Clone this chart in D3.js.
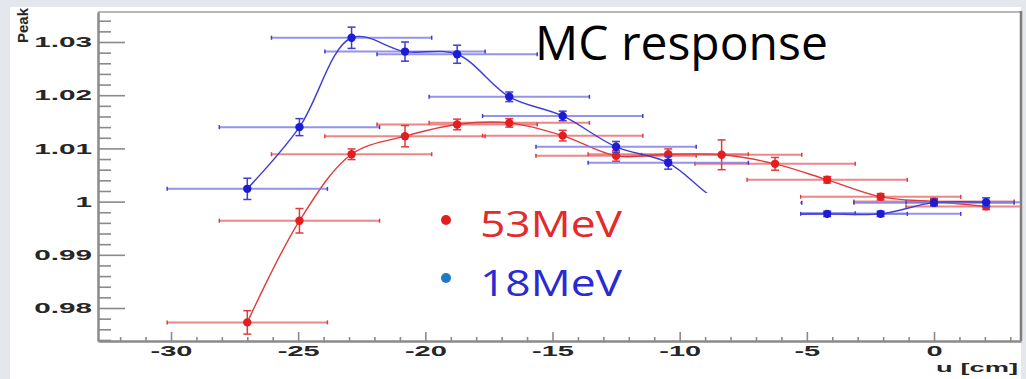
<!DOCTYPE html>
<html>
<head>
<meta charset="utf-8">
<script src="https://cdn.jsdelivr.net/npm/d3@7"></script>
<style>
  body { margin: 0; background: #e4e7eb; }
  svg { display: block; }
</style>
</head>
<body>
<div id="chart"></div>
<script>
// bin centres in u [cm], and the fitted peak per bin
var uBins = [-27.0, -24.95, -22.9, -20.8, -18.75, -16.7, -14.6, -12.5, -10.45, -8.35, -6.25, -4.2, -2.1, 0, 2.05];
var uHalfWidth = 3.15;

var peak53 = [0.9773, 0.9964, 1.0089, 1.0123, 1.0145, 1.0148, 1.0124, 1.0086, 1.0089, 1.0088, 1.0071, 1.0041, 1.0009, 1.0000, 0.9991];
var err53 = [0.0022, 0.0023, 0.0010, 0.0020, 0.0010, 0.0008, 0.0010, 0.0010, 0.0010, 0.0028, 0.0012, 0.0006, 0.0006, 0.0006, 0.0006];

var peak18 = [1.0024, 1.0140, 1.0308, 1.0282, 1.0277, 1.0197, 1.0161, 1.0103, 1.0073, 0.9998, 0.9978, 0.9977, 0.9977, 0.9998, 0.9999];
var err18 = [0.0020, 0.0016, 0.0020, 0.0018, 0.0017, 0.0009, 0.0009, 0.0010, 0.0012, 0.0010, 0.0010, 0.0005, 0.0005, 0.0006, 0.0008];

var xTicks = [-30, -25, -20, -15, -10, -5, 0];
var xTickLabels = ["-30", "-25", "-20", "-15", "-10", "-5", "0"];
var yTicks = [0.98, 0.99, 1, 1.01, 1.02, 1.03];
var yTickLabels = ["0.98", "0.99", "1", "1.01", "1.02", "1.03"];

var legendNames = ["53MeV", "18MeV"];

var width = 1026, height = 379;
var plotLeft = 98, plotRight = 1021, plotTop = 12, plotBottom = 341;

var svg = d3.select('#chart').append('svg')
    .attr('width', width)
    .attr('height', height);

// white slide panel
svg.append('rect')
    .attr('x', 10).attr('y', 7)
    .attr('width', plotRight - 10).attr('height', height - 7)
    .attr('fill', '#ffffff');

var x = d3.scaleLinear().domain([-32.87, 3.42]).range([plotLeft, plotRight]);
var y = d3.scaleLinear().domain([0.9738, 1.03564]).range([plotBottom, plotTop]);

svg.append('clipPath').attr('id', 'plotclip')
    .append('rect')
    .attr('x', plotLeft).attr('y', plotTop)
    .attr('width', plotRight - plotLeft).attr('height', plotBottom - plotTop);

// frame top and right
svg.append('line')
    .attr('x1', plotLeft).attr('x2', plotRight).attr('y1', plotTop).attr('y2', plotTop)
    .attr('stroke', '#a0a0a0').attr('stroke-width', 1.5);
svg.append('line')
    .attr('x1', plotRight).attr('x2', plotRight).attr('y1', plotTop - 1).attr('y2', plotBottom)
    .attr('stroke', '#7c7c7c').attr('stroke-width', 2.5);

// minor ticks
var xMinor = d3.range(-32, 4).filter(function (d) { return d % 5 !== 0; });
var yMinor = d3.range(487, 518).map(function (k) { return k * 0.002; })
    .filter(function (d) { return Math.abs(d * 100 - Math.round(d * 100)) > 1e-6; });

svg.append('g')
    .attr('transform', 'translate(0,' + plotBottom + ')')
    .call(d3.axisBottom(x).tickValues(xMinor).tickSize(-4).tickFormat(''))
    .call(function (g) { g.select('.domain').remove(); });

svg.append('g')
    .attr('transform', 'translate(' + plotLeft + ',0)')
    .call(d3.axisLeft(y).tickValues(yMinor).tickSize(-13).tickFormat(''))
    .call(function (g) { g.select('.domain').remove(); });

// major axes
var xAxis = svg.append('g')
    .attr('transform', 'translate(0,' + plotBottom + ')')
    .call(d3.axisBottom(x).tickValues(xTicks).tickSizeInner(-9).tickSizeOuter(0)
        .tickFormat(function (d, i) { return xTickLabels[i]; }));

var yAxis = svg.append('g')
    .attr('transform', 'translate(' + plotLeft + ',0)')
    .call(d3.axisLeft(y).tickValues(yTicks).tickSizeInner(-27).tickSizeOuter(0)
        .tickFormat(function (d, i) { return yTickLabels[i]; }));

svg.selectAll('.tick line').attr('stroke', '#8a8a8a').attr('stroke-width', 1.6);
xAxis.select('.domain').attr('stroke', '#8a8a8a').attr('stroke-width', 2.5);
yAxis.select('.domain').attr('stroke', '#8a8a8a').attr('stroke-width', 2.5);

xAxis.selectAll('text')
    .attr('y', 0).attr('dy', 0)
    .attr('transform', 'translate(0,15) scale(2.0,1)')
    .style('font-family', 'Liberation Sans, Arial, sans-serif')
    .style('font-weight', 'bold').style('font-size', '14.5px')
    .attr('fill', '#262626');

yAxis.selectAll('text')
    .attr('x', 0)
    .attr('transform', 'translate(-6,0) scale(2.05,1)')
    .style('font-family', 'Liberation Sans, Arial, sans-serif')
    .style('font-weight', 'bold').style('font-size', '14.5px')
    .attr('fill', '#262626');

// axis titles
svg.append('text')
    .attr('transform', 'translate(1018,372) scale(2.1,1)')
    .attr('text-anchor', 'end')
    .style('font-family', 'Liberation Sans, Arial, sans-serif')
    .style('font-weight', 'bold').style('font-size', '13px')
    .attr('fill', '#262626')
    .text('u [cm]');

svg.append('text')
    .attr('transform', 'translate(28,8) rotate(-90)')
    .attr('text-anchor', 'end')
    .style('font-family', 'Liberation Sans, Arial, sans-serif')
    .style('font-weight', 'bold').style('font-size', '15px')
    .attr('fill', '#262626')
    .text('Peak');

// data series
var series = [
    { peak: peak53, err: err53, bar: '#e86a6a', line: '#e23a3a', dot: '#e41e1e' },
    { peak: peak18, err: err18, bar: '#7a7ae6', line: '#3c3cd8', dot: '#1c1cd2' }
];

var plot = svg.append('g').attr('clip-path', 'url(#plotclip)');

var line = d3.line()
    .x(function (d) { return x(d.u); })
    .y(function (d) { return y(d.p); })
    .curve(d3.curveCatmullRom.alpha(0.5));

series.forEach(function (s) {
    var pts = uBins.map(function (u, i) { return { u: u, p: s.peak[i], e: s.err[i] }; });
    var g = plot.append('g');

    // horizontal bars
    g.selectAll('.hbar').data(pts).enter().append('line')
        .attr('x1', function (d) { return x(d.u - uHalfWidth); })
        .attr('x2', function (d) { return x(d.u + uHalfWidth); })
        .attr('y1', function (d) { return y(d.p); })
        .attr('y2', function (d) { return y(d.p); })
        .attr('stroke', s.bar).attr('stroke-width', 2).attr('opacity', 0.8);

    // bar end marks
    [-1, 1].forEach(function (k) {
        g.selectAll('.hend').data(pts).enter().append('line')
            .attr('x1', function (d) { return x(d.u + k * uHalfWidth); })
            .attr('x2', function (d) { return x(d.u + k * uHalfWidth); })
            .attr('y1', function (d) { return y(d.p) - 2; })
            .attr('y2', function (d) { return y(d.p) + 2; })
            .attr('stroke', s.line).attr('stroke-width', 1.5);
    });

    // vertical error bars with caps
    g.selectAll('.vbar').data(pts).enter().append('line')
        .attr('x1', function (d) { return x(d.u); })
        .attr('x2', function (d) { return x(d.u); })
        .attr('y1', function (d) { return y(d.p - d.e); })
        .attr('y2', function (d) { return y(d.p + d.e); })
        .attr('stroke', s.line).attr('stroke-width', 1.5);

    [-1, 1].forEach(function (k) {
        g.selectAll('.cap').data(pts).enter().append('line')
            .attr('x1', function (d) { return x(d.u) - 4; })
            .attr('x2', function (d) { return x(d.u) + 4; })
            .attr('y1', function (d) { return y(d.p + k * d.e); })
            .attr('y2', function (d) { return y(d.p + k * d.e); })
            .attr('stroke', s.line).attr('stroke-width', 1.5);
    });

    g.append('path')
        .datum(pts)
        .attr('d', line)
        .attr('fill', 'none')
        .attr('stroke', s.line).attr('stroke-width', 1.4);

    g.selectAll('circle').data(pts).enter().append('circle')
        .attr('cx', function (d) { return x(d.u); })
        .attr('cy', function (d) { return y(d.p); })
        .attr('r', 4.2)
        .attr('fill', s.dot);
});

// legend panel sits over the plot
svg.append('rect')
    .attr('x', 427).attr('y', 193)
    .attr('width', 373).attr('height', 132)
    .attr('fill', '#ffffff');

var legendColors = ['#e42a2a', '#2a2ad2'];
var legendDots = ['#e41e1e', '#1e78c4'];

legendNames.forEach(function (name, i) {
    svg.append('circle')
        .attr('cx', 446).attr('cy', 220 + i * 58)
        .attr('r', 5)
        .attr('fill', legendDots[i]);
    svg.append('text')
        .attr('x', 480).attr('y', 237 + i * 59)
        .attr('textLength', 142).attr('lengthAdjust', 'spacingAndGlyphs')
        .style('font-family', 'Open Sans, sans-serif')
        .style('font-size', '37px')
        .attr('fill', legendColors[i])
        .text(name);
});

svg.append('text')
    .attr('x', 535).attr('y', 60)
    .style('font-family', 'Open Sans, sans-serif')
    .style('font-size', '48px')
    .attr('fill', '#000000')
    .text('MC response');
</script>
</body>
</html>
